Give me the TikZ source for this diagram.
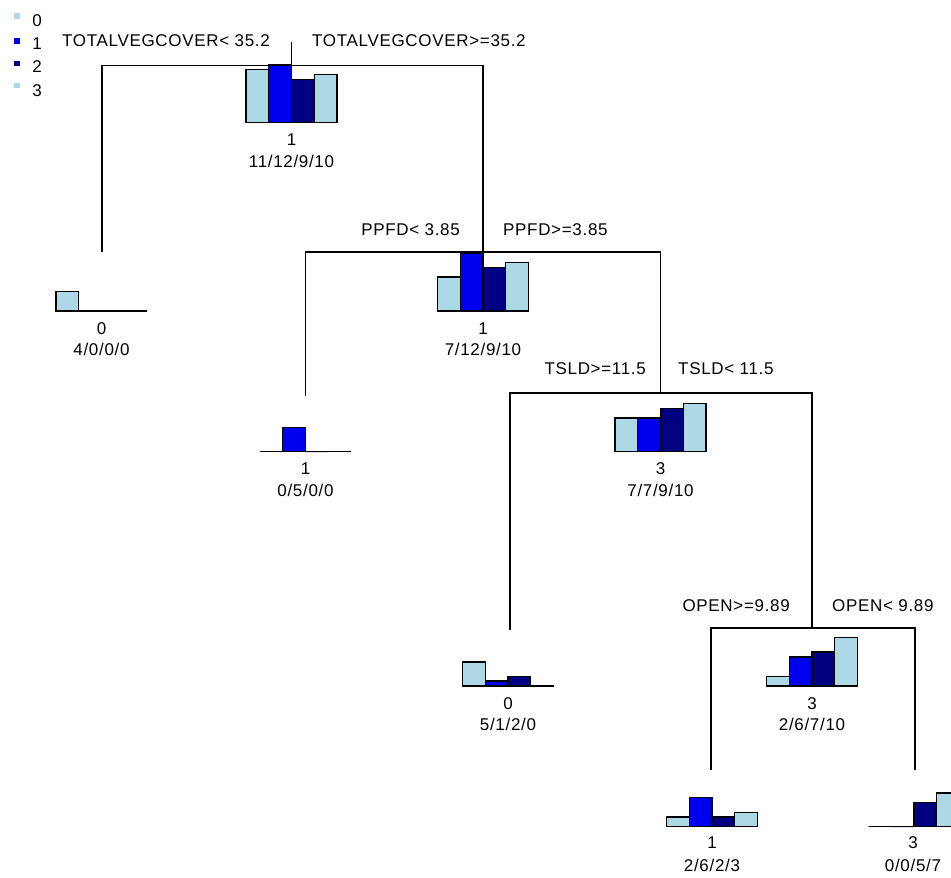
\documentclass[tikz,border=0pt]{standalone}
\usepackage{fontspec}
\setmainfont{Liberation Sans}[LetterSpace=4]
\definecolor{c0}{RGB}{173,216,230}
\definecolor{c1}{RGB}{0,0,240}
\definecolor{c2}{RGB}{0,0,128}
\tikzset{
  edge/.style={draw=black,line width=1.3pt},
  bar/.style={draw=black,line width=1.4pt},
  lbl/.style={inner sep=0pt,font=\fontsize{17}{20}\selectfont},
}
\newcommand\histo[6]{%
  \foreach \v/\c [count=\i from 0] in {#3/c0,#4/c1,#5/c2,#6/c0}{
    \filldraw[fill=\c,bar] ({#1-45.5+\i*22.75},#2) rectangle ++(22.75,{-\v*4.83});
  }
  \draw[bar] ({#1-45.5},#2) -- ({#1+45.5},#2);
}
\begin{document}
\begin{tikzpicture}[x=1pt,y=-1pt]
\useasboundingbox (0,0) rectangle (951,878);
\clip (0,0) rectangle (951,878);
\fill[white] (0,0) rectangle (951,878);
% legend
\fill[c0] (14,13) rectangle (19.5,18.5);
\fill[c1] (14,38) rectangle (20,44);
\fill[c2] (14,60.5) rectangle (19.5,66);
\fill[c0] (14,82.5) rectangle (19.5,88);
\node[lbl,anchor=base] (l0) at (37,26) {0};
\node[lbl,anchor=base] (l1) at (37,49.5) {1};
\node[lbl,anchor=base] (l2) at (37,72.5) {2};
\node[lbl,anchor=base] (l3) at (37,96) {3};
% histograms
\histo{291.5}{122.7}{11}{12}{9}{10}
\histo{101.5}{311}{4}{0}{0}{0}
\histo{483}{311}{7}{12}{9}{10}
\histo{305.5}{451.7}{0}{5}{0}{0}
\histo{660.5}{451.7}{7}{7}{9}{10}
\histo{508}{686}{5}{1}{2}{0}
\histo{812}{686}{2}{6}{7}{10}
\histo{712}{826.7}{2}{6}{2}{3}
\histo{914}{826.7}{0}{0}{5}{7}
% node texts
\node[lbl,anchor=base] (r1) at (291.5,145.7) {1};
\node[lbl,anchor=base] (r2) at (291.5,167) {11/12/9/10};
\node[lbl,anchor=base] (a1) at (101.5,334) {0};
\node[lbl,anchor=base] (a2) at (101.5,355.5) {4/0/0/0};
\node[lbl,anchor=base] (b1) at (483,334) {1};
\node[lbl,anchor=base] (b2) at (483,355.5) {7/12/9/10};
\node[lbl,anchor=base] (c1n) at (305.5,474.7) {1};
\node[lbl,anchor=base] (c2n) at (305.5,496.2) {0/5/0/0};
\node[lbl,anchor=base] (d1) at (660.5,474.7) {3};
\node[lbl,anchor=base] (d2) at (660.5,496.2) {7/7/9/10};
\node[lbl,anchor=base] (e1) at (508,709) {0};
\node[lbl,anchor=base] (e2) at (508,730.5) {5/1/2/0};
\node[lbl,anchor=base] (f1) at (812,709) {3};
\node[lbl,anchor=base] (f2) at (812,730.5) {2/6/7/10};
\node[lbl,anchor=base] (g1) at (712,848.5) {1};
\node[lbl,anchor=base] (g2) at (712,871.5) {2/6/2/3};
\node[lbl,anchor=base] (h1) at (913,848.5) {3};
\node[lbl,anchor=base] (h2) at (913,871.5) {0/0/5/7};
% split labels
\node[lbl,anchor=base east] (sr1) at (270,46.7) {TOTALVEGCOVER< 35.2};
\node[lbl,anchor=base west] (sr2) at (312,46.7) {TOTALVEGCOVER>=35.2};
\node[lbl,anchor=base east] (sb1) at (460,235) {PPFD< 3.85};
\node[lbl,anchor=base west] (sb2) at (503,235) {PPFD>=3.85};
\node[lbl,anchor=base east] (sd1) at (646,374.5) {TSLD>=11.5};
\node[lbl,anchor=base west] (sd2) at (678,374.5) {TSLD< 11.5};
\node[lbl,anchor=base east] (sf1) at (790,611.5) {OPEN>=9.89};
\node[lbl,anchor=base west] (sf2) at (832,611.5) {OPEN< 9.89};
% tree coordinates
\coordinate (rt) at (291.5,42);
\coordinate (rs) at (291.5,65.5);
\coordinate (rl) at (102,65.5);
\coordinate (rr) at (483,65.5);
\coordinate (at) at (102,252);
\coordinate (bs) at (483,252);
\coordinate (bl) at (305.5,252);
\coordinate (br) at (660.5,252);
\coordinate (ct) at (305.5,396);
\coordinate (ds) at (660.5,393);
\coordinate (dl) at (510,393);
\coordinate (dr) at (812,393);
\coordinate (et) at (510,630);
\coordinate (fs) at (812,628);
\coordinate (fl) at (711,628);
\coordinate (fr) at (915,628);
\coordinate (gt) at (711,770);
\coordinate (ht) at (915,770);
% connectors
\draw[edge] (rt) -- (rs);
\draw[edge] (at) -- (rl) -- (rr) -- (bs);
\draw[edge] (ct) -- (bl) -- (br) -- (ds);
\draw[edge] (et) -- (dl) -- (dr) -- (fs);
\draw[edge] (gt) -- (fl) -- (fr) -- (ht);
\end{tikzpicture}
\end{document}
